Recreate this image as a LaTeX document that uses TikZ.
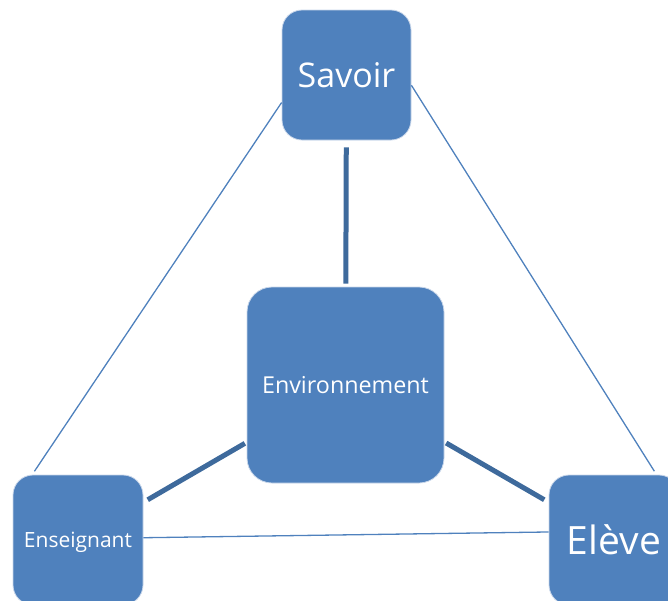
\documentclass[tikz,border=0pt]{standalone}
\usepackage{fontspec}
\setmainfont{Open Sans}
\definecolor{boxblue}{HTML}{4F81BD}
\definecolor{edgeblue}{HTML}{C9D7EA}
\definecolor{thickblue}{HTML}{3E6A9C}
\tikzset{
  box/.style={fill=boxblue, draw=edgeblue, line width=0.8pt, rounded corners=#1,
    inner sep=0pt, text=white, text depth=0pt, align=center},
  thinline/.style={draw=boxblue, line width=1.3pt},
  thickline/.style={draw=thickblue, line width=5pt},
}
\begin{document}
\begin{tikzpicture}[x=1pt, y=-1pt]
\useasboundingbox (0,0) rectangle (668,600);
\clip (0,0) rectangle (668,600);
\node[box=20pt, minimum width=129pt, minimum height=130pt, font=\fontsize{34}{40}\selectfont] (sav) at (346.5,75) {Savoir};
\node[box=25pt, minimum width=197pt, minimum height=196pt, font=\fontsize{23.3}{28}\selectfont] (env) at (345.5,385) {Environnement};
\node[box=20pt, minimum width=130pt, minimum height=130pt, font=\fontsize{21}{25}\selectfont] (ens) at (78,540) {Enseignant};
\node[box=20pt, minimum width=130pt, minimum height=130pt, font=\fontsize{39}{45}\selectfont] (elv) at (614,540) {Elève};
% thin triangle
\draw[thinline, shorten >=4pt] (sav.203) -- (ens.125);
\draw[thinline, shorten >=4pt] (sav.351) -- (elv.57);
\draw[thinline] (ens.2) -- (elv.173);
% thick connectors to the centre
\draw[thickline, shorten <=7pt, shorten >=3pt] (sav) -- (env);
\draw[thickline, shorten <=2pt, shorten >=5pt] (env) -- (ens);
\draw[thickline, shorten <=2pt, shorten >=5pt] (env) -- (elv);
\end{tikzpicture}
\end{document}
